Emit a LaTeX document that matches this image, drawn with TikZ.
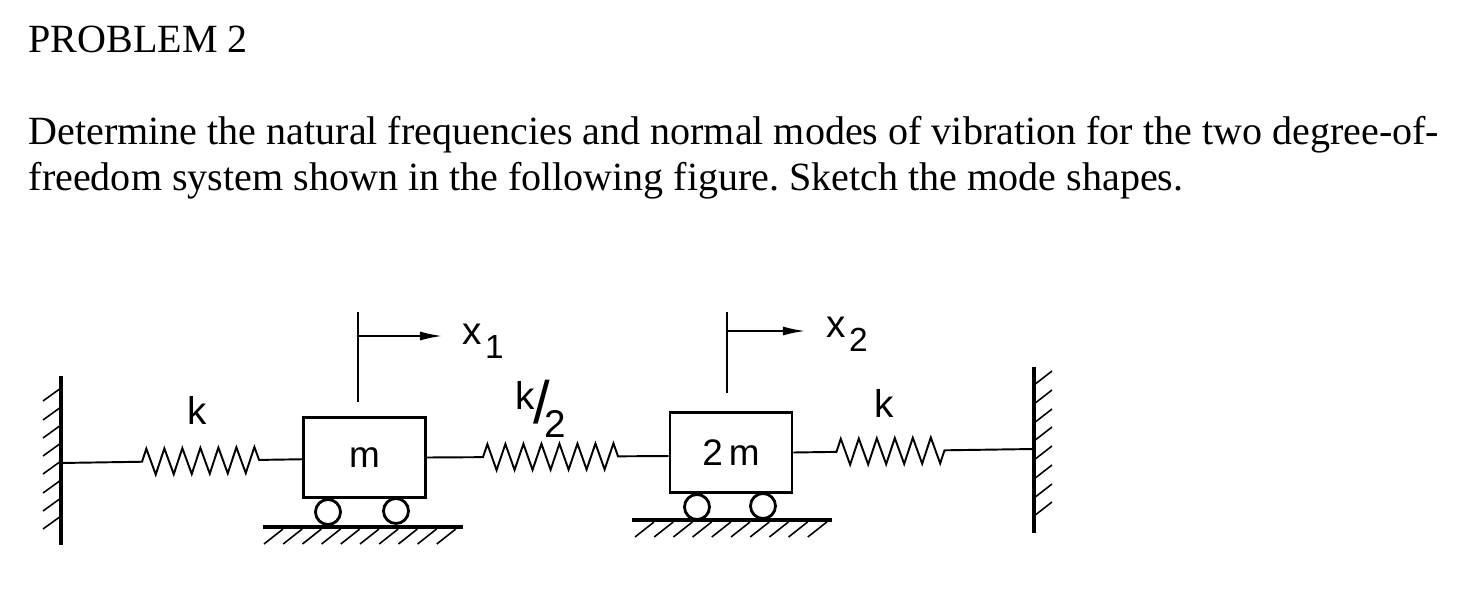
\documentclass[tikz,border=0pt]{standalone}
\usepackage{fontspec}
\setmainfont{Liberation Serif}
\newfontfamily\labelfont{Liberation Sans}
\usetikzlibrary{decorations.pathmorphing, arrows.meta}
\frenchspacing
\tikzset{
  textline/.style={anchor=base west, inner sep=0pt, font=\fontsize{11.39pt}{13pt}\selectfont},
  figlabel/.style={inner sep=0pt, font=\labelfont\fontsize{11pt}{13pt}\selectfont},
  mass/.style={draw, line width=0.8pt, minimum width=1.22cm, minimum height=0.8cm, inner sep=0pt, font=\labelfont\fontsize{10.5pt}{12pt}\selectfont},
  roller/.style={draw, circle, line width=0.8pt, minimum size=0.25cm, inner sep=0pt},
  spring/.style 2 args={line width=0.55pt, decorate, decoration={zigzag, amplitude=0.13cm, segment length=0.18cm, pre length=#1, post length=#2}},
  rod/.style={line width=0.5pt},
  support/.style={line width=0.9pt},
  hatch/.style={line width=0.45pt},
  motion/.style={line width=0.5pt, -{Latex[length=0.22cm, width=0.09cm]}}
}
\begin{document}
\begin{tikzpicture}[x=0.01cm, y=-0.01cm]
\useasboundingbox (0,0) rectangle (1484,594);

% Problem text
\node[textline] (title) at (28,52) {PROBLEM 2};
\node[textline] (line1) at (28,144) {Determine the natural frequencies and normal modes of vibration for the two degree-of-};
\node[textline] (line2) at (28,190) {freedom system shown in the following figure. Sketch the mode shapes.};

% Walls
\coordinate (wallLtop) at (61,376);
\coordinate (wallLbot) at (61,545);
\coordinate (wallRtop) at (1034,367);
\coordinate (wallRbot) at (1034,533);
\draw[support] (wallLtop) -- (wallLbot);
\draw[support] (wallRtop) -- (wallRbot);
\foreach \y in {388, 407, 425, 443, 461, 480, 498, 516} {
  \draw[hatch] (61,\y) -- (43,\y+13);
}
\foreach \y in {385, 404, 423, 441, 460, 479, 498, 516} {
  \draw[hatch] (1034,\y) -- (1052,\y-14);
}

% Masses
\node[mass] (m) at (364.5,457.5) {m};
\node[mass] (mm) at (731,452.5) {2\,m};

% Rollers and ground
\node[roller] (r1) at (328,512) {};
\node[roller] (r2) at (396,511) {};
\node[roller] (r3) at (697,507) {};
\node[roller] (r4) at (763,506) {};
\draw[support] (263,527) -- (463,527);
\draw[support] (632,520) -- (832,520);
\foreach \x in {0,...,9} {
  \draw[hatch] (283+19.2*\x,529) -- (264+19.2*\x,544);
  \draw[hatch] (654+19.2*\x,522) -- (635+19.2*\x,537);
}

% Springs
\coordinate (wallLmid) at (61,463);
\coordinate (wallRmid) at (1034,449);
\draw[spring={0.81cm}{0.4cm}] (wallLmid) -- ([yshift=-0.5pt]m.west);
\draw[spring={0.56cm}{0.5cm}] (m.east) -- ([yshift=-1pt]mm.west);
\draw[spring={0.43cm}{0.84cm}] (mm.east) -- (wallRmid);
\node[figlabel] (k1) at (197,410) {k};
\node[figlabel] (k2) at (541,409) {\raisebox{4pt}{k}\kern-0.5pt{\fontsize{17pt}{17pt}\selectfont/}\kern-1.5pt\raisebox{-4pt}{2}};
\node[figlabel] (k3) at (884,403) {k};

% Displacements
\coordinate (x1top) at (358,312);
\coordinate (x1bot) at (358,402);
\coordinate (x1start) at (358,336);
\coordinate (x1end) at (442,336);
\coordinate (x2top) at (727,312);
\coordinate (x2bot) at (727,393);
\coordinate (x2start) at (727,331);
\coordinate (x2end) at (805,331);
\draw[rod] (x1top) -- (x1bot);
\draw[rod] (x2top) -- (x2bot);
\draw[motion] (x1start) -- (x1end);
\draw[motion] (x2start) -- (x2end);
\node[figlabel] (x1) at (483,341) {x\kern1pt\raisebox{-4pt}{\fontsize{9.5pt}{11pt}\selectfont 1}};
\node[figlabel] (x2) at (847,334) {x\kern1pt\raisebox{-4pt}{\fontsize{9.5pt}{11pt}\selectfont 2}};
\end{tikzpicture}
\end{document}
